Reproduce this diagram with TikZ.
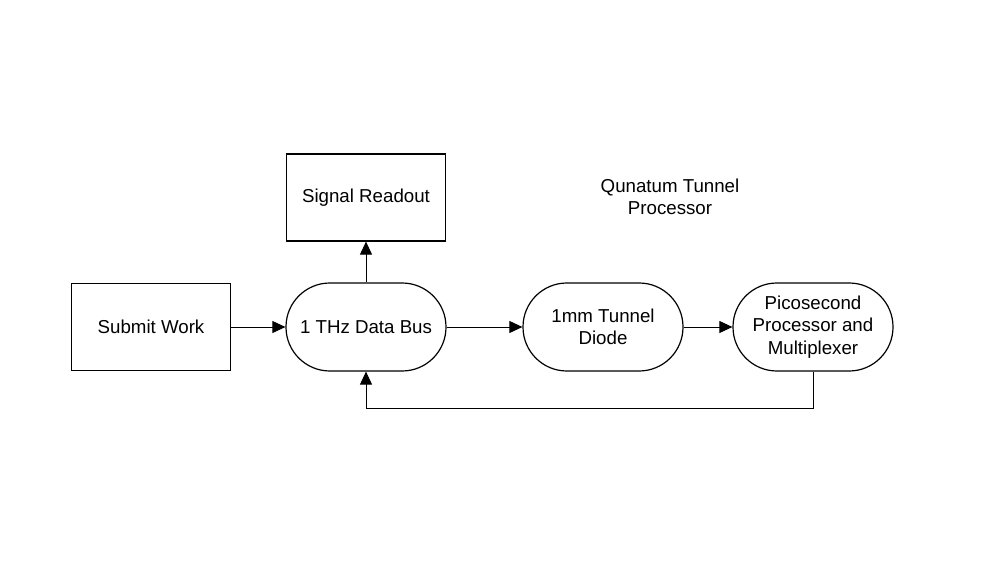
\documentclass[tikz,border=0pt]{standalone}
\usepackage{fontspec}
\setmainfont{Liberation Sans}
\usetikzlibrary{arrows.meta}
\begin{document}
\begin{tikzpicture}[x=1pt,y=-1pt,
  every node/.style={font=\fontsize{18.7}{22.5}\selectfont, align=center},
  boxnode/.style={draw, line width=1.2pt, minimum width=159pt, minimum height=87pt, inner sep=0pt},
  pill/.style={draw, line width=1.2pt, minimum width=160pt, minimum height=88pt, rounded corners=43.9pt, inner sep=0pt},
  conn/.style={line width=0.8pt, -{Triangle[length=13pt,width=12pt]}}]
\useasboundingbox (0,0) rectangle (982,567);
\node[boxnode] (submit) at (151,327) {Submit Work};
\node[boxnode] (signal) at (366,197.5) {Signal Readout};
\node[pill] (bus) at (366,327) {1 THz Data Bus};
\node[pill] (diode) at (603,327) {1mm Tunnel\\Diode};
\node[pill] (pico) at (813,327) {Picosecond\\Processor and\\Multiplexer};
\node (title) at (670,197) {Qunatum Tunnel\\Processor};
\coordinate (fb) at (813,408);
\draw[conn] (submit) -- (bus);
\draw[conn] (bus) -- (signal);
\draw[conn] (bus) -- (diode);
\draw[conn] (diode) -- (pico);
\draw[conn] (pico.south) -- (fb) -| (bus.south);
\end{tikzpicture}
\end{document}
